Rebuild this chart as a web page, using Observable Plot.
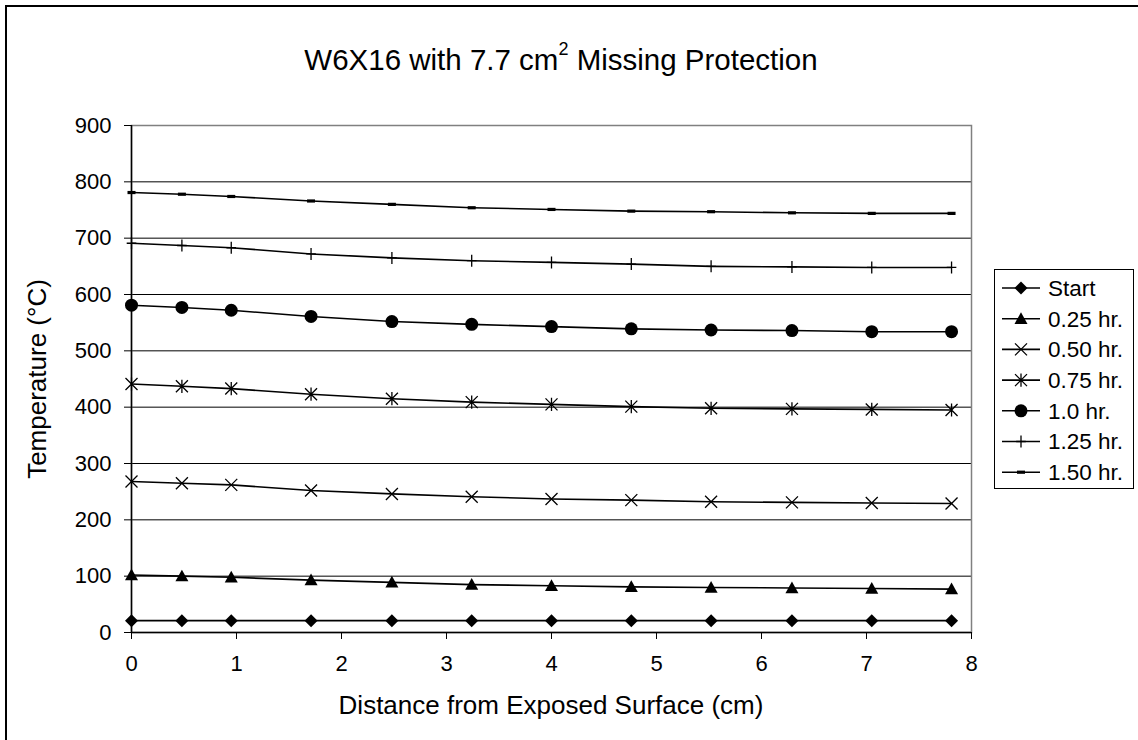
<!DOCTYPE html>
<html>
<head>
<meta charset="utf-8">
<script src="https://cdn.jsdelivr.net/npm/d3@7"></script>
<script src="https://cdn.jsdelivr.net/npm/@observablehq/plot@0.6"></script>
<style>
  html, body { margin: 0; padding: 0; background: #fff; overflow: hidden; }
  #chart { position: relative; width: 1138px; height: 740px; font-family: "Liberation Sans", Arial, sans-serif; color: #000; }
  #border { position: absolute; left: 5px; top: 5px; width: 1140px; height: 740px; border: 2px solid #000; box-sizing: border-box; }
  #plot { position: absolute; left: 0; top: 0; }
  #title { position: absolute; left: 0; width: 1122px; top: 43px; text-align: center; font-size: 29.5px; white-space: nowrap; }
  #title sup { font-size: 18px; position: relative; top: -4px; }
  #ylabel { position: absolute; left: 37px; top: 379px; transform: translate(-50%, -50%) rotate(-90deg); font-size: 26px; white-space: nowrap; }
  #xlabel { position: absolute; left: 551px; top: 705px; transform: translate(-50%, -50%); font-size: 26px; white-space: nowrap; }
  #legend { position: absolute; left: 994px; top: 269px; }
</style>
</head>
<body>
<div id="chart">
  <div id="border"></div>
  <div id="plot"></div>
  <div id="title">W6X16 with 7.7 cm<sup>2</sup> Missing Protection</div>
  <div id="ylabel">Temperature (°C)</div>
  <div id="xlabel">Distance from Exposed Surface (cm)</div>
  <div id="legend"></div>
</div>
<script>
// ---- data ----
const distance = [0, 0.48, 0.95, 1.71, 2.48, 3.24, 4.0, 4.76, 5.52, 6.29, 7.05, 7.81];
const seriesNames = ["Start", "0.25 hr.", "0.50 hr.", "0.75 hr.", "1.0 hr.", "1.25 hr.", "1.50 hr."];
const tStart = [21, 21, 21, 21, 21, 21, 21, 21, 21, 21, 21, 21];
const t025 = [102, 100, 98, 93, 89, 85, 83, 81, 80, 79, 78, 77];
const t050 = [268, 265, 262, 252, 246, 241, 237, 235, 232, 231, 230, 229];
const t075 = [441, 437, 433, 423, 415, 409, 405, 401, 398, 397, 396, 395];
const t100 = [581, 577, 572, 561, 552, 547, 543, 539, 537, 536, 534, 534];
const t125 = [691, 687, 683, 672, 665, 660, 657, 654, 650, 649, 648, 648];
const t150 = [781, 778, 774, 766, 760, 754, 751, 748, 747, 745, 744, 744];
const yTicks = [0, 100, 200, 300, 400, 500, 600, 700, 800, 900];
const xTicks = [0, 1, 2, 3, 4, 5, 6, 7, 8];

const seriesValues = [tStart, t025, t050, t075, t100, t125, t150];
const rows = [];
seriesNames.forEach((name, s) => {
  distance.forEach((d, i) => rows.push({series: name, distance: d, temp: seriesValues[s][i]}));
});

// ---- marker symbols ----
const rad = (size) => Math.sqrt(size / Math.PI);
const symDiamond = {draw(c, size) { const r = rad(size); c.moveTo(0, -r); c.lineTo(r, 0); c.lineTo(0, r); c.lineTo(-r, 0); c.closePath(); }};
const symTriangle = {draw(c, size) { const r = rad(size); c.moveTo(0, -r); c.lineTo(r, r * 0.8); c.lineTo(-r, r * 0.8); c.closePath(); }};
const symTimes = {draw(c, size) { const r = rad(size); c.moveTo(-r, -r); c.lineTo(r, r); c.moveTo(r, -r); c.lineTo(-r, r); }};
const symAsterisk = {draw(c, size) { const r = rad(size); c.moveTo(-r, -r); c.lineTo(r, r); c.moveTo(r, -r); c.lineTo(-r, r); c.moveTo(0, -r * 1.1); c.lineTo(0, r * 1.1); }};
const symCircle = {draw(c, size) { const r = rad(size); c.moveTo(r, 0); c.arc(0, 0, r, 0, 2 * Math.PI); c.closePath(); }};
const symPlus = {draw(c, size) { const r = rad(size); c.moveTo(0, -r); c.lineTo(0, r); c.moveTo(-r * 0.8, 0); c.lineTo(r * 0.8, 0); }};
const symDash = {draw(c, size) { const r = rad(size); c.rect(-r, -r * 0.4, 2 * r, r * 0.8); }};

const markerStyle = [
  {symbol: symDiamond, r: 6.5, fill: "black", stroke: "none"},
  {symbol: symTriangle, r: 6.5, fill: "black", stroke: "none"},
  {symbol: symTimes, r: 6, fill: "none", stroke: "black"},
  {symbol: symAsterisk, r: 6, fill: "none", stroke: "black"},
  {symbol: symCircle, r: 6.5, fill: "black", stroke: "none"},
  {symbol: symPlus, r: 6, fill: "none", stroke: "black"},
  {symbol: symDash, r: 4, fill: "black", stroke: "none"}
];

const font = "'Liberation Sans', Arial, sans-serif";

const plot = Plot.plot({
  width: 1138,
  height: 740,
  marginLeft: 131,
  marginRight: 167,
  marginTop: 125,
  marginBottom: 108,
  style: {fontFamily: font, fontSize: "22px", background: "transparent", overflow: "visible"},
  x: {domain: [0, 8]},
  y: {domain: [0, 900]},
  marks: [
    Plot.ruleY(yTicks.slice(1), {stroke: "black", strokeWidth: 1}),
    Plot.frame({stroke: "#808080", strokeWidth: 1.5}),
    Plot.ruleX([0], {stroke: "black", strokeWidth: 1.5}),
    Plot.ruleY([0], {stroke: "black", strokeWidth: 1.5}),
    Plot.axisY({ticks: yTicks, tickSize: 7, tickPadding: 13, fontSize: 22, label: null, tickFormat: d3.format("d")}),
    Plot.axisX({ticks: xTicks, tickSize: 7, tickPadding: 16, fontSize: 22, label: null, tickFormat: d3.format("d")}),
    Plot.line(rows, {x: "distance", y: "temp", z: "series", stroke: "black", strokeWidth: 1.6}),
    ...seriesNames.map((name, s) => Plot.dot(rows.filter(d => d.series === name), {
      x: "distance", y: "temp",
      symbol: markerStyle[s].symbol, r: markerStyle[s].r,
      fill: markerStyle[s].fill, stroke: markerStyle[s].stroke, strokeWidth: 1.3
    }))
  ]
});
document.getElementById("plot").appendChild(plot);

// ---- legend ----
const lw = 139, lh = 219, step = 30.7, y0 = 19;
const leg = d3.select("#legend").append("svg").attr("width", lw + 2).attr("height", lh + 2);
leg.append("rect").attr("x", 0.5).attr("y", 0.5).attr("width", lw).attr("height", lh)
  .attr("fill", "white").attr("stroke", "black");
seriesNames.forEach((name, s) => {
  const g = leg.append("g").attr("transform", `translate(0,${y0 + s * step})`);
  g.append("line").attr("x1", 8).attr("x2", 46).attr("stroke", "black").attr("stroke-width", 1.6);
  const m = markerStyle[s];
  g.append("path").attr("transform", "translate(27,0)")
    .attr("d", d3.symbol(m.symbol, m.r * m.r * Math.PI)())
    .attr("fill", m.fill).attr("stroke", m.stroke).attr("stroke-width", 1.3);
  g.append("text").attr("x", 54).attr("dy", "0.35em").attr("font-family", font)
    .attr("font-size", 22.5).text(name);
});
</script>
</body>
</html>
